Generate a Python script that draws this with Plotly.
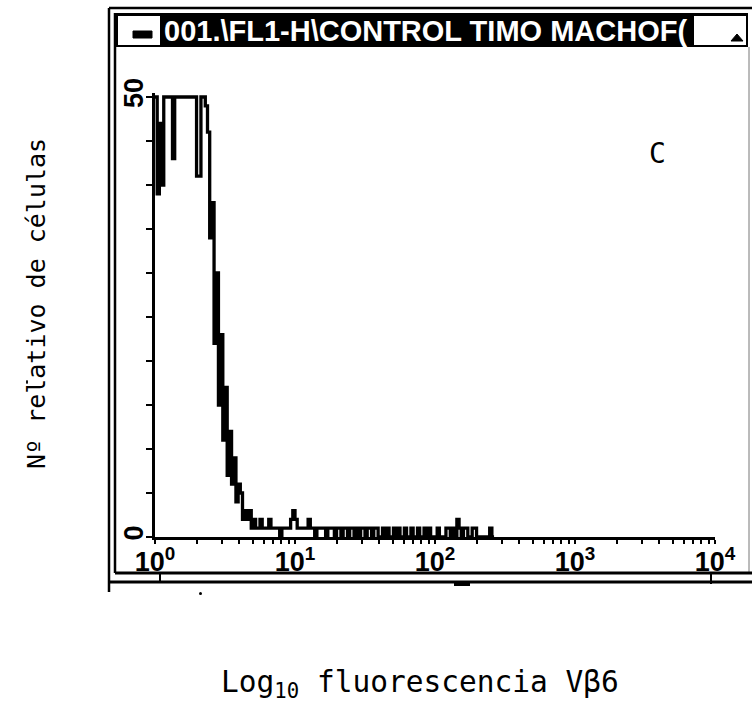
import plotly.graph_objects as go

W, H = 752, 715

# FL1-H histogram: counts per channel, 64 channels per decade starting at 10^0
CHANNELS_PER_DECADE = 64
counts = [
    50, 39, 47, 40, 50, 50, 50, 50, 43, 50,   # 0-9
    50, 50, 50, 50, 50, 50, 50, 50, 50, 41,   # 10-19
    41, 50, 50, 49, 46, 34, 38, 22, 30, 15,   # 20-29
    23, 11, 17, 7, 12, 6, 9, 4, 6, 5,         # 30-39
    2, 3, 2, 3, 1, 2, 1, 1, 2, 1,             # 40-49
    1, 1, 2, 1, 1, 1, 1, 0, 1, 1,             # 50-59
    1, 1, 2, 3, 2, 1, 1, 1, 1, 1,             # 60-69
    2, 1, 1, 0, 1, 1, 1, 1, 0, 1,             # 70-79
    1, 1, 0, 1, 1, 0, 1, 1, 0, 1,             # 80-89
    1, 0, 1, 0, 1, 1, 0, 1, 1, 0,             # 90-99
    1, 1, 0, 0, 1, 0, 1, 0, 0, 1,             # 100-109
    0, 1, 0, 0, 1, 0, 0, 1, 0, 0,             # 110-119
    1, 0, 0, 1, 0, 1, 0, 0, 0, 1,             # 120-129
    0, 0, 0, 1, 1, 0, 1, 0, 2, 1,             # 130-139
    0, 1, 1, 0, 0, 1, 1, 0, 0, 0,             # 140-149
    0, 0, 0, 1, 0,                            # 150-154
]

x_tick_vals = [1, 10, 100, 1000, 10000]
x_tick_text = ["10<sup>0</sup>", "10<sup>1</sup>", "10<sup>2</sup>",
               "10<sup>3</sup>", "10<sup>4</sup>"]
y_tick_vals = [0, 5, 10, 15, 20, 25, 30, 35, 40, 45, 50]
y_tick_text = ["0", "", "", "", "", "", "", "", "", "", "50"]

title_text = "001.\\FL1-H\\CONTROL TIMO MACHOF("
x_title = "Log<sub>10</sub> fluorescencia Vβ6"
y_title = "Nº relativo de células"
panel_tag = "C"


def X(px):
    return px / W


def Y(py):
    return 1 - py / H


# channel edges on the log scale
edges = [10 ** (k / CHANNELS_PER_DECADE) for k in range(len(counts) + 1)]
y_steps = counts + [0]

# plot box in pixels
x0_px, x1_px = 155, 715
ybase_px, ytop_px = 537, 97
y_max = 50.4
px_per_unit = (ybase_px - ytop_px) / 50.0
ytop_dom = ybase_px - y_max * px_per_unit

minor_vals = [d * 10 ** e for e in range(4) for d in range(2, 10)]

bold_sans = "Liberation Sans, Arial, sans-serif"
tick_font = dict(family=bold_sans, size=27, color="black", weight="bold")
mono = "DejaVu Sans Mono, monospace"

fig = go.Figure()
fig.add_trace(go.Scatter(
    x=edges, y=y_steps, mode="lines",
    line=dict(shape="hv", color="black", width=3.3),
    hoverinfo="skip",
))

fig.update_layout(
    width=W, height=H, autosize=False,
    margin=dict(l=0, r=0, t=0, b=0),
    paper_bgcolor="white", plot_bgcolor="white",
    showlegend=False,
    xaxis=dict(
        type="log", range=[0, 4], automargin=False,
        domain=[X(x0_px), X(x1_px)],
        showline=True, linecolor="black", linewidth=3,
        ticks="outside", ticklen=4, tickwidth=2, tickcolor="black",
        tickvals=x_tick_vals, ticktext=x_tick_text,
        tickfont=tick_font, ticklabelstandoff=-5,
        showgrid=False, zeroline=False,
        minor=dict(ticks="outside", ticklen=4, tickwidth=2,
                   tickcolor="black", tickvals=minor_vals, showgrid=False),
        anchor="y",
    ),
    yaxis=dict(
        range=[0, y_max], automargin=False,
        domain=[Y(ybase_px), Y(ytop_dom)],
        showline=True, linecolor="black", linewidth=2.5,
        ticks="outside", ticklen=6, tickwidth=2, tickcolor="black",
        tickvals=y_tick_vals, ticktext=y_tick_text,
        tickangle=-90, tickfont=tick_font, ticklabelstandoff=-8,
        showgrid=False, zeroline=False,
        anchor="x",
    ),
)

shapes = []


def line(xa, ya, xb, yb, w=2.5, color="black"):
    shapes.append(dict(type="line", xref="paper", yref="paper",
                       x0=X(xa), y0=Y(ya), x1=X(xb), y1=Y(yb),
                       line=dict(color=color, width=w)))


def rect(xa, ya, xb, yb, fill, lw=0, lc="black"):
    shapes.append(dict(type="rect", xref="paper", yref="paper",
                       x0=X(xa), y0=Y(ya), x1=X(xb), y1=Y(yb),
                       fillcolor=fill, line=dict(color=lc, width=lw)))


# window frame
line(109, 8, 752, 8, 2.5)
line(109, 8, 109, 592, 2.5)
line(115, 13, 115, 573, 2.5)
line(749, 47, 749, 573, 1, "#777777")
line(115, 573, 752, 573, 3)
line(109, 582, 752, 582, 3)
line(160, 573, 160, 582, 2)
line(711, 573, 711, 584, 2)
rect(454, 582, 470, 586, "black")

# title bar
rect(115, 13, 748, 47, "black")
rect(118, 16, 160, 45, "white")
shapes.append(dict(type="rect", xref="paper", yref="paper",
                   x0=X(133), y0=Y(38), x1=X(152), y1=Y(31),
                   fillcolor="black", line=dict(color="black", width=1)))
rect(694, 16, 746, 45, "white")
shapes.append(dict(type="path", xref="paper", yref="paper",
                   path=f"M {X(731)} {Y(41)} L {X(743)} {Y(41)} L {X(737)} {Y(34)} Z",
                   fillcolor="black", line=dict(color="black", width=1)))

# small specks
shapes.append(dict(type="circle", xref="paper", yref="paper",
                   x0=X(199), y0=Y(595), x1=X(202), y1=Y(592),
                   fillcolor="black", line=dict(width=0)))
shapes.append(dict(type="circle", xref="paper", yref="paper",
                   x0=X(26), y0=Y(384), x1=X(28), y1=Y(380),
                   fillcolor="black", line=dict(width=0)))

fig.update_layout(shapes=shapes)

fig.add_annotation(
    x=X(162), y=Y(31), xref="paper", yref="paper",
    xanchor="left", yanchor="middle", showarrow=False,
    text=title_text,
    font=dict(family=bold_sans, size=29, color="white", weight="bold"),
)
fig.add_annotation(
    x=X(420), y=Y(684), xref="paper", yref="paper",
    xanchor="center", yanchor="middle", showarrow=False,
    text=x_title, font=dict(family=mono, size=29.5, color="black"),
)
fig.add_annotation(
    x=X(36), y=Y(304), xref="paper", yref="paper",
    xanchor="center", yanchor="middle", showarrow=False, textangle=-90,
    text=y_title, font=dict(family=mono, size=25, color="black"),
)
fig.add_annotation(
    x=X(657), y=Y(153), xref="paper", yref="paper",
    xanchor="center", yanchor="middle", showarrow=False,
    text=panel_tag, font=dict(family=mono, size=28, color="black"),
)

fig.write_html("out.html")
